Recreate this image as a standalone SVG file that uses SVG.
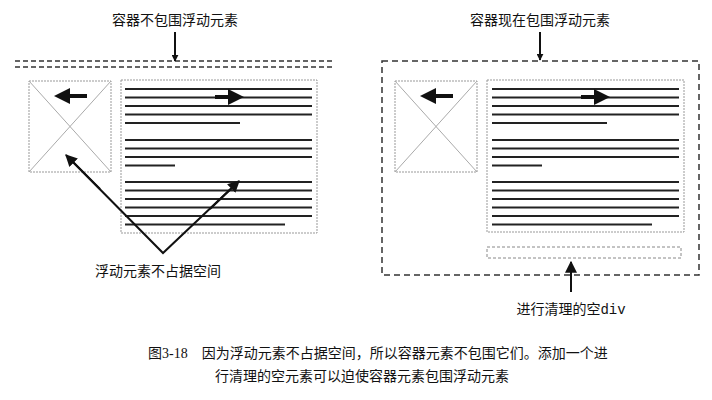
<svg xmlns="http://www.w3.org/2000/svg" width="712" height="400" viewBox="0 0 712 400">
<defs>
<style>
text{font-family:"Liberation Serif","Noto Sans CJK SC",serif;font-size:14px;fill:#111}
.ln{stroke:#222;stroke-width:2.2}
.box{fill:none;stroke:#999;stroke-width:1;stroke-dasharray:2 1}
.x{stroke:#aaa;stroke-width:1}
.ar{stroke:#111;stroke-width:2;fill:none}
.fat{stroke:#111;stroke-width:4}
</style>
<marker id="h" viewBox="0 0 10 10" refX="9" refY="5" markerWidth="7" markerHeight="7" markerUnits="userSpaceOnUse" orient="auto"><path d="M0,0L10,5L0,10z" fill="#111"/></marker>
<marker id="hb" viewBox="0 0 10 10" refX="5" refY="5" markerWidth="4" markerHeight="4" orient="auto"><path d="M0,0L10,5L0,10z" fill="#111"/></marker>
<marker id="hm" viewBox="0 0 10 10" refX="9" refY="5" markerWidth="12" markerHeight="12" markerUnits="userSpaceOnUse" orient="auto"><path d="M0,0L10,5L0,10z" fill="#111"/></marker>
<g id="lines">
<line class="ln" x1="0" y1="0" x2="187" y2="0"/><line class="ln" x1="0" y1="8.5" x2="187" y2="8.5"/><line class="ln" x1="0" y1="17" x2="187" y2="17"/><line class="ln" x1="0" y1="25.5" x2="187" y2="25.5"/><line class="ln" x1="0" y1="34" x2="115" y2="34"/>
<line class="ln" x1="0" y1="51" x2="187" y2="51"/><line class="ln" x1="0" y1="59.5" x2="187" y2="59.5"/><line class="ln" x1="0" y1="68" x2="187" y2="68"/><line class="ln" x1="0" y1="76.5" x2="50" y2="76.5"/>
<line class="ln" x1="0" y1="93" x2="187" y2="93"/><line class="ln" x1="0" y1="101.5" x2="187" y2="101.5"/><line class="ln" x1="0" y1="110" x2="187" y2="110"/><line class="ln" x1="0" y1="118.5" x2="187" y2="118.5"/><line class="ln" x1="0" y1="127" x2="187" y2="127"/><line class="ln" x1="0" y1="135.5" x2="160" y2="135.5"/>
</g>
</defs>
<rect width="712" height="400" fill="#fff"/>
<g id="left">
<text x="175" y="25" text-anchor="middle">容器不包围浮动元素</text>
<line x1="15" y1="61" x2="332" y2="61" stroke="#333" stroke-width="1.5" stroke-dasharray="5 3"/>
<line x1="15" y1="67" x2="332" y2="67" stroke="#333" stroke-width="1.5" stroke-dasharray="5 3"/>
<g id="img1"><rect class="box" x="29" y="81" width="82" height="91"/><line class="x" x1="29" y1="81" x2="111" y2="172"/><line class="x" x1="111" y1="81" x2="29" y2="172"/>
<line class="fat" x1="87" y1="96" x2="62" y2="96" marker-end="url(#hb)"/></g>
<g id="txt1"><rect class="box" x="121" y="80" width="196" height="153"/><use href="#lines" x="125" y="89"/>
<line class="fat" x1="215" y1="97" x2="236" y2="97" marker-end="url(#hb)"/></g>
<text x="158" y="276" text-anchor="middle">浮动元素不占据空间</text>
</g>
<g id="right">
<text x="540" y="25" text-anchor="middle">容器现在包围浮动元素</text>
<rect x="382" y="61" width="317" height="214" fill="none" stroke="#333" stroke-width="1.5" stroke-dasharray="6 4"/>
<g id="img2"><rect class="box" x="395" y="81" width="82" height="91"/><line class="x" x1="395" y1="81" x2="477" y2="172"/><line class="x" x1="477" y1="81" x2="395" y2="172"/>
<line class="fat" x1="453" y1="96" x2="428" y2="96" marker-end="url(#hb)"/></g>
<g id="txt2"><rect class="box" x="487" y="80" width="197" height="152"/><use href="#lines" x="492" y="89"/>
<line class="fat" x1="581" y1="97" x2="602" y2="97" marker-end="url(#hb)"/></g>
<rect id="clear" x="487" y="247" width="194" height="11" fill="none" stroke="#888" stroke-width="1" stroke-dasharray="3 2"/>
<text x="571" y="314" text-anchor="middle">进行清理的空<tspan font-family="Liberation Mono,monospace">div</tspan></text>
</g>
<g id="connectors">
<line class="ar" x1="175" y1="32" x2="175" y2="61" marker-end="url(#h)"/>
<line class="ar" x1="540" y1="32" x2="540" y2="60" marker-end="url(#h)"/>
<line class="ar" x1="571" y1="292" x2="571" y2="262" marker-end="url(#hm)"/>
<polyline class="ar" points="68,157 163,253 237,183"/>
<line class="ar" x1="100" y1="189" x2="66" y2="155" marker-end="url(#hm)"/>
<line class="ar" x1="210" y1="209" x2="239" y2="181" marker-end="url(#hm)"/>
</g>
<g id="caption">
<text x="148" y="358">图3-18　因为浮动元素不占据空间，所以容器元素不包围它们。添加一个进</text>
<text x="215" y="381">行清理的空元素可以迫使容器元素包围浮动元素</text>
</g>
</svg>
